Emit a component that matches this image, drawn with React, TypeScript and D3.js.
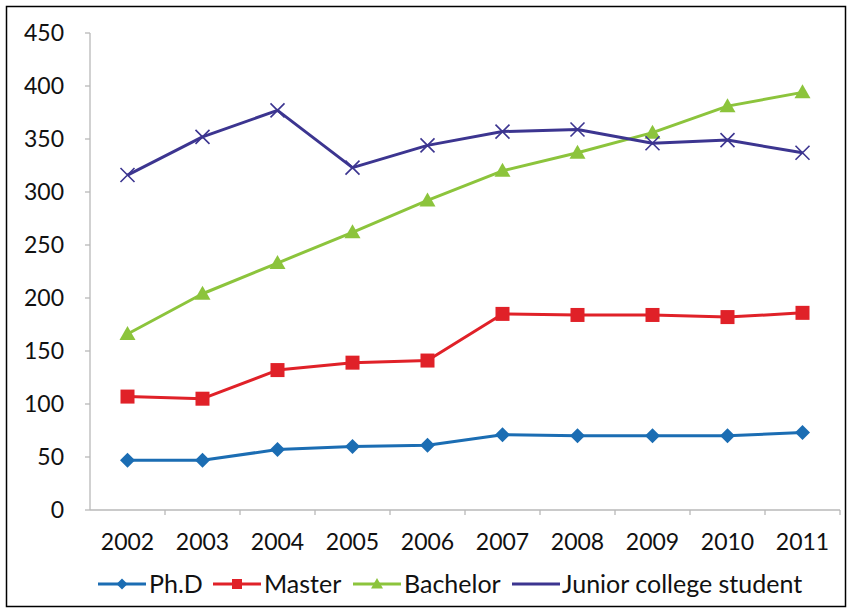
import React from "react";
import * as d3 from "d3";

const years = ["2002", "2003", "2004", "2005", "2006", "2007", "2008", "2009", "2010", "2011"];
const phd = [47, 47, 57, 60, 61, 71, 70, 70, 70, 73];
const master = [107, 105, 132, 139, 141, 185, 184, 184, 182, 186];
const bachelor = [166, 204, 233, 262, 292, 320, 337, 356, 381, 394];
const junior = [316, 352, 377, 323, 344, 357, 359, 346, 349, 337];
const yTicks = [0, 50, 100, 150, 200, 250, 300, 350, 400, 450];

const seriesNames = ["Ph.D", "Master", "Bachelor", "Junior college student"];
const seriesColors = ["#1b6db3", "#e02128", "#8cc43c", "#3c3590"];
const seriesMarkers = ["diamond", "square", "triangle", "cross"];

const W = 852;
const H = 610;
const FONT = "Lato, 'Open Sans', sans-serif";

function Marker({ kind, x, y, color, s = 7 }: { kind: string; x: number; y: number; color: string; s?: number }) {
  if (kind === "diamond") {
    const r = s + 0.5;
    return <path d={`M${x},${y - r}L${x + r},${y}L${x},${y + r}L${x - r},${y}Z`} fill={color} />;
  }
  if (kind === "square") {
    return <rect x={x - s} y={y - s} width={2 * s} height={2 * s} fill={color} />;
  }
  if (kind === "triangle") {
    const r = s + 1;
    return <path d={`M${x},${y - r}L${x + r},${y + r * 0.75}L${x - r},${y + r * 0.75}Z`} fill={color} />;
  }
  return (
    <path
      d={`M${x - s},${y - s}L${x + s},${y + s}M${x - s},${y + s}L${x + s},${y - s}`}
      stroke={color}
      strokeWidth={1.6}
      fill="none"
    />
  );
}

export default function App() {
  const data = [phd, master, bachelor, junior];
  const left = 90;
  const right = 840;
  const x = d3.scaleBand<string>().domain(years).range([left, right]);
  const y = d3.scaleLinear().domain([0, 450]).range([510, 33]);
  const cx = (yr: string) => (x(yr) as number) + x.bandwidth() / 2;
  const line = d3
    .line<number>()
    .x((_, i) => cx(years[i]))
    .y((v) => y(v));

  const legendItems = [
    { lx: 98, tx: 149 },
    { lx: 213, tx: 264 },
    { lx: 353, tx: 404 },
    { lx: 512, tx: 562 },
  ];
  const legendY = 584;

  return (
    <svg width={W} height={H} style={{ position: "absolute", left: 0, top: 0 }} fontFamily={FONT}>
      <rect x={0} y={0} width={W} height={H} fill="#fff" />
      <rect x={6.5} y={6.5} width={839} height={600} fill="none" stroke="#000" strokeWidth={1.5} />

      {/* axes */}
      <line x1={left} x2={left} y1={y(450)} y2={y(0)} stroke="#b8b8b8" strokeWidth={1.3} />
      <line x1={left} x2={right} y1={y(0)} y2={y(0)} stroke="#b8b8b8" strokeWidth={1.3} />
      {yTicks.map((t) => (
        <g key={t}>
          <line x1={left - 5} x2={left} y1={y(t)} y2={y(t)} stroke="#b8b8b8" strokeWidth={1.3} />
          <text x={64} y={y(t)} dy="0.35em" textAnchor="end" fontSize={23} fill="#111">
            {t}
          </text>
        </g>
      ))}
      {years.map((yr) => (
        <g key={yr}>
          <line
            x1={(x(yr) as number) + x.bandwidth()}
            x2={(x(yr) as number) + x.bandwidth()}
            y1={y(0)}
            y2={y(0) + 5}
            stroke="#b8b8b8"
            strokeWidth={1.3}
          />
          <text x={cx(yr)} y={542} dy="0.35em" textAnchor="middle" fontSize={23} fill="#111">
            {yr}
          </text>
        </g>
      ))}

      {/* series */}
      {data.map((vals, si) => (
        <g key={seriesNames[si]}>
          <path d={line(vals) || ""} fill="none" stroke={seriesColors[si]} strokeWidth={3} strokeLinejoin="round" />
          {vals.map((v, i) => (
            <Marker key={i} kind={seriesMarkers[si]} x={cx(years[i])} y={y(v)} color={seriesColors[si]} />
          ))}
        </g>
      ))}

      {/* legend */}
      {legendItems.map((it, si) => (
        <g key={seriesNames[si]}>
          <line x1={it.lx} x2={it.lx + 48} y1={legendY} y2={legendY} stroke={seriesColors[si]} strokeWidth={3} />
          {si < 3 && <Marker kind={seriesMarkers[si]} x={it.lx + 24} y={legendY} color={seriesColors[si]} s={5} />}
          <text x={it.tx} y={legendY} dy="0.35em" fontSize={25} fill="#111">
            {seriesNames[si]}
          </text>
        </g>
      ))}
    </svg>
  );
}
